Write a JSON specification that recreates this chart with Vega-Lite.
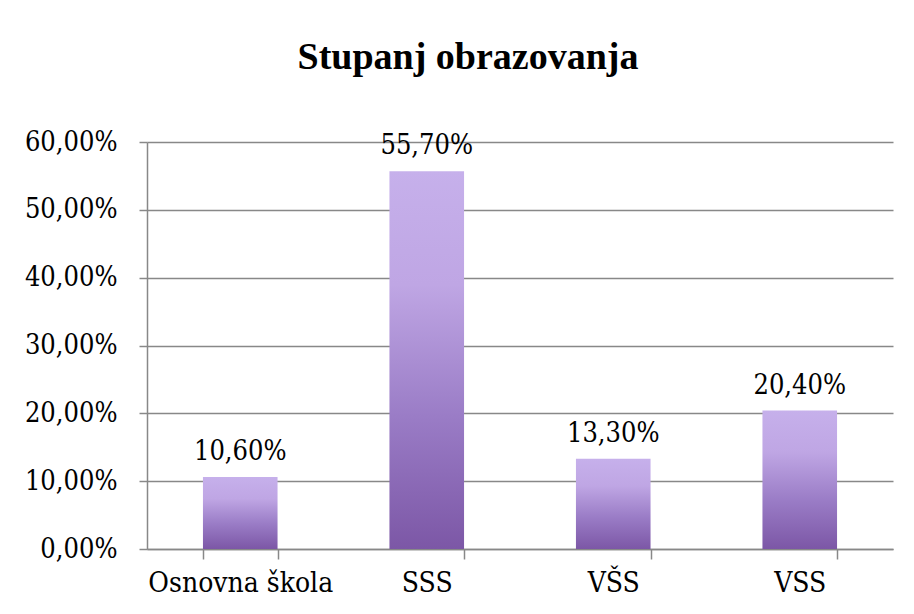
{
  "$schema": "https://vega.github.io/schema/vega-lite/v6.json",
  "autosize": {"type": "none"},
  "width": 746,
  "height": 407,
  "padding": {"left": 147, "top": 142, "right": 21, "bottom": 65},
  "background": "white",
  "config": {
    "locale": {"number": {"decimal": ",", "thousands": ".", "grouping": [3], "currency": ["", " €"]}},
    "view": {"stroke": null},
    "font": "DejaVu Serif Condensed"
  },
  "title": {
    "text": "Stupanj obrazovanja",
    "font": "Liberation Serif",
    "fontSize": 38,
    "fontWeight": "bold",
    "color": "black",
    "anchor": "middle",
    "frame": "group",
    "baseline": "alphabetic",
    "dx": -52,
    "offset": 21
  },
  "data": {
    "values": [
      {"stupanj": "Osnovna škola", "udio": 0.106},
      {"stupanj": "SSS", "udio": 0.557},
      {"stupanj": "VŠS", "udio": 0.133},
      {"stupanj": "VSS", "udio": 0.204}
    ]
  },
  "encoding": {
    "x": {
      "field": "stupanj",
      "type": "nominal",
      "sort": null,
      "scale": {"paddingInner": 0.6, "paddingOuter": 0.3},
      "axis": {
        "title": null,
        "labelAngle": 0,
        "labelFont": "DejaVu Serif Condensed",
        "labelFontSize": 28,
        "labelLimit": 400,
        "labelOverlap": false,
        "labelColor": "black",
        "labelPadding": 10,
        "labelBaseline": "top",
        "tickBand": "extent",
        "tickSize": 10,
        "tickColor": "#888888",
        "tickWidth": 1.5,
        "domainColor": "#888888",
        "domainWidth": 1.5,
        "grid": false
      }
    },
    "y": {
      "field": "udio",
      "type": "quantitative",
      "scale": {"domain": [0, 0.6], "nice": false},
      "axis": {
        "title": null,
        "format": ".2%",
        "values": [0, 0.1, 0.2, 0.3, 0.4, 0.5, 0.6],
        "labelFont": "DejaVu Serif Condensed",
        "labelFontSize": 27,
        "labelColor": "black",
        "labelPadding": 22,
        "tickSize": 8,
        "tickColor": "#888888",
        "tickWidth": 1.5,
        "domainColor": "#888888",
        "domainWidth": 1.5,
        "grid": true,
        "gridColor": "#888888",
        "gridWidth": 1.5
      }
    }
  },
  "layer": [
    {
      "mark": {
        "type": "bar",
        "color": {
          "gradient": "linear",
          "x1": 0, "y1": 0, "x2": 0, "y2": 1,
          "stops": [
            {"offset": 0, "color": "#c6b0eb"},
            {"offset": 0.3, "color": "#bfa6e4"},
            {"offset": 0.65, "color": "#9a7cc6"},
            {"offset": 1, "color": "#7c57a6"}
          ]
        }
      }
    },
    {
      "mark": {
        "type": "text",
        "baseline": "alphabetic",
        "dy": -17,
        "font": "DejaVu Serif Condensed",
        "fontSize": 27,
        "color": "black"
      },
      "encoding": {
        "text": {"field": "udio", "type": "quantitative", "format": ".2%"}
      }
    }
  ]
}
